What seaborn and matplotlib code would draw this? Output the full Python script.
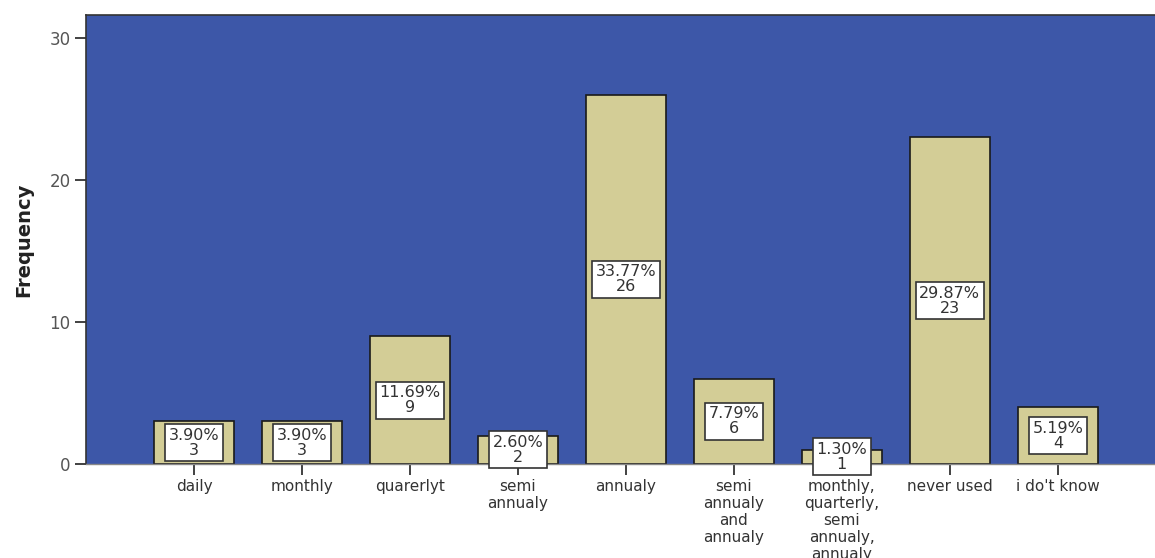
import matplotlib
matplotlib.use("Agg")
import matplotlib.pyplot as plt
import seaborn as sns
import pandas as pd

categories = ["daily", "monthly", "quarerlyt", "semi\nannualy", "annualy",
              "semi\nannualy\nand\nannualy",
              "monthly,\nquarterly,\nsemi\nannualy,\nannualy",
              "never used", "i do't know"]
counts = [3, 3, 9, 2, 26, 6, 1, 23, 4]
percents = ["3.90%", "3.90%", "11.69%", "2.60%", "33.77%", "7.79%", "1.30%", "29.87%", "5.19%"]

sns.set_style("white")
plt.rcParams['font.family'] = ['DejaVu Sans']

df = pd.DataFrame({"cat": categories, "count": counts})

fig = plt.figure(figsize=(11.55, 5.58), dpi=100)
ax = fig.add_axes([86/1155, (558-464)/558, (1155-86)/1155, (464-15)/558])
ax.set_facecolor("#3D57A8")

sns.barplot(data=df, x="cat", y="count", color="#D3CD96", width=0.74,
            edgecolor="#1a1a1a", linewidth=1.2, saturation=1, ax=ax)

for i, (c, p) in enumerate(zip(counts, percents)):
    ax.text(i, c / 2, f"{p}\n{c}", ha="center", va="center", fontsize=11.5,
            color="#333333", linespacing=1.0,
            bbox=dict(boxstyle="square,pad=0.22", facecolor="white",
                      edgecolor="#333333", linewidth=1.2))

ax.set_xlim(-1.0, 8.9)
ax.set_ylim(0, 31.6)
ax.set_yticks([0, 10, 20, 30])
ax.set_yticklabels(["0", "10", "20", "30"], fontsize=12, color="#555555")
ax.set_xticks(range(len(categories)))
ax.set_xticklabels(categories, fontsize=11, color="#333333", linespacing=1.17, va="top")
ax.tick_params(axis="both", which="both", length=8, width=1.3, color="#333333",
               direction="out", left=True, bottom=True, pad=3)
ax.set_xlabel("")
ax.set_ylabel("Frequency", fontsize=14, fontweight="bold", color="#222222", labelpad=12)

for side in ["top", "left"]:
    ax.spines[side].set_color("#333333")
    ax.spines[side].set_linewidth(1.2)
ax.spines["bottom"].set_color("#888888")
ax.spines["bottom"].set_linewidth(1.0)
ax.spines["right"].set_visible(False)

fig.savefig("out.png", dpi=100)
